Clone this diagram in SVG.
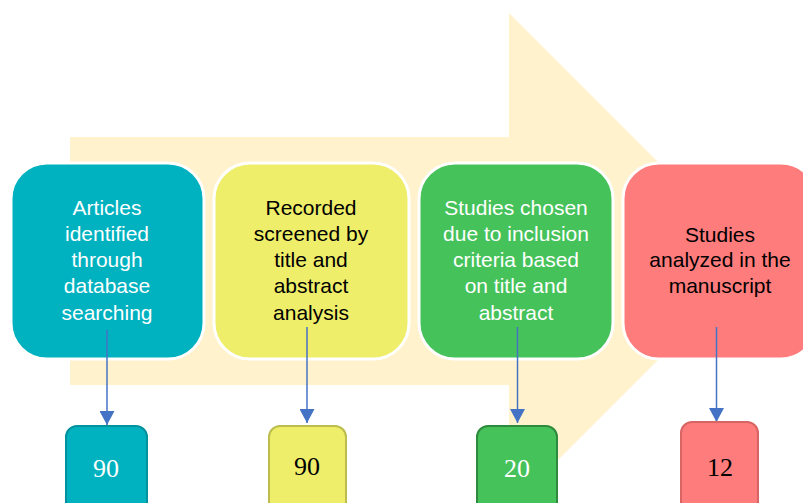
<svg xmlns="http://www.w3.org/2000/svg" width="803" height="503" viewBox="0 0 803 503">
<style>
.big{stroke:#ffffff;stroke-width:3}
.lbl{font-family:"Liberation Sans",Arial,sans-serif;font-size:21px;text-anchor:middle}
.num{font-family:"Liberation Serif","Times New Roman",serif;font-size:26px;text-anchor:middle}
.w{fill:#ffffff}
.k{fill:#000000}
.conn{stroke:#4472C4;stroke-width:1.5;fill:none;marker-end:url(#ah)}
</style>
<defs>
<marker id="ah" viewBox="0 0 14 15" refX="14" refY="7.5" markerWidth="14" markerHeight="15" markerUnits="userSpaceOnUse" orient="auto">
<path d="M0,0 L14,7.5 L0,15 z" fill="#4472C4"/>
</marker>
</defs>
<rect width="803" height="503" fill="#ffffff"/>
<polygon id="bigArrow" points="70,137 509,137 509,13 757,261 509,509 509,385 70,385" fill="#FFF2CC"/>
<g id="node1">
<rect class="big" x="11" y="163" width="193" height="196" rx="36" fill="#00B2BF"/>
<text class="lbl w" x="107" y="215">Articles</text>
<text class="lbl w" x="107" y="241">identified</text>
<text class="lbl w" x="107" y="267">through</text>
<text class="lbl w" x="107" y="293">database</text>
<text class="lbl w" x="107" y="320">searching</text>
</g>
<g id="node2">
<rect class="big" x="214" y="163" width="195" height="196" rx="36" fill="#EEEE6B"/>
<text class="lbl k" x="311" y="215">Recorded</text>
<text class="lbl k" x="311" y="241">screened by</text>
<text class="lbl k" x="311" y="267">title and</text>
<text class="lbl k" x="311" y="293">abstract</text>
<text class="lbl k" x="311" y="320">analysis</text>
</g>
<g id="node3">
<rect class="big" x="419" y="163" width="194" height="196" rx="36" fill="#46C25B"/>
<text class="lbl w" x="516" y="215">Studies chosen</text>
<text class="lbl w" x="516" y="241">due to inclusion</text>
<text class="lbl w" x="516" y="267">criteria based</text>
<text class="lbl w" x="516" y="293">on title and</text>
<text class="lbl w" x="516" y="320">abstract</text>
</g>
<g id="node4">
<rect class="big" x="623" y="163" width="194" height="196" rx="36" fill="#FF7C7C"/>
<text class="lbl k" x="720" y="242">Studies</text>
<text class="lbl k" x="720" y="267">analyzed in the</text>
<text class="lbl k" x="720" y="293">manuscript</text>
</g>
<g id="connectors">
<line class="conn" x1="107" y1="330" x2="107" y2="425"/>
<line class="conn" x1="307" y1="327" x2="307" y2="423"/>
<line class="conn" x1="517.5" y1="327" x2="517.5" y2="423"/>
<line class="conn" x1="716.5" y1="327" x2="716.5" y2="422"/>
</g>
<g id="count1">
<rect x="66" y="426" width="81" height="100" rx="11" fill="#00B2BF" stroke="#00929D" stroke-width="2"/>
<text class="num w" x="106" y="477">90</text>
</g>
<g id="count2">
<rect x="269" y="426" width="77" height="100" rx="11" fill="#EEEE6B" stroke="#BDBD4E" stroke-width="2"/>
<text class="num k" x="307" y="475">90</text>
</g>
<g id="count3">
<rect x="477" y="426" width="80" height="100" rx="11" fill="#46C25B" stroke="#2E8B3E" stroke-width="2"/>
<text class="num w" x="517" y="477">20</text>
</g>
<g id="count4">
<rect x="681" y="422" width="77" height="100" rx="11" fill="#FF7C7C" stroke="#D86464" stroke-width="2"/>
<text class="num k" x="720" y="476">12</text>
</g>
</svg>
